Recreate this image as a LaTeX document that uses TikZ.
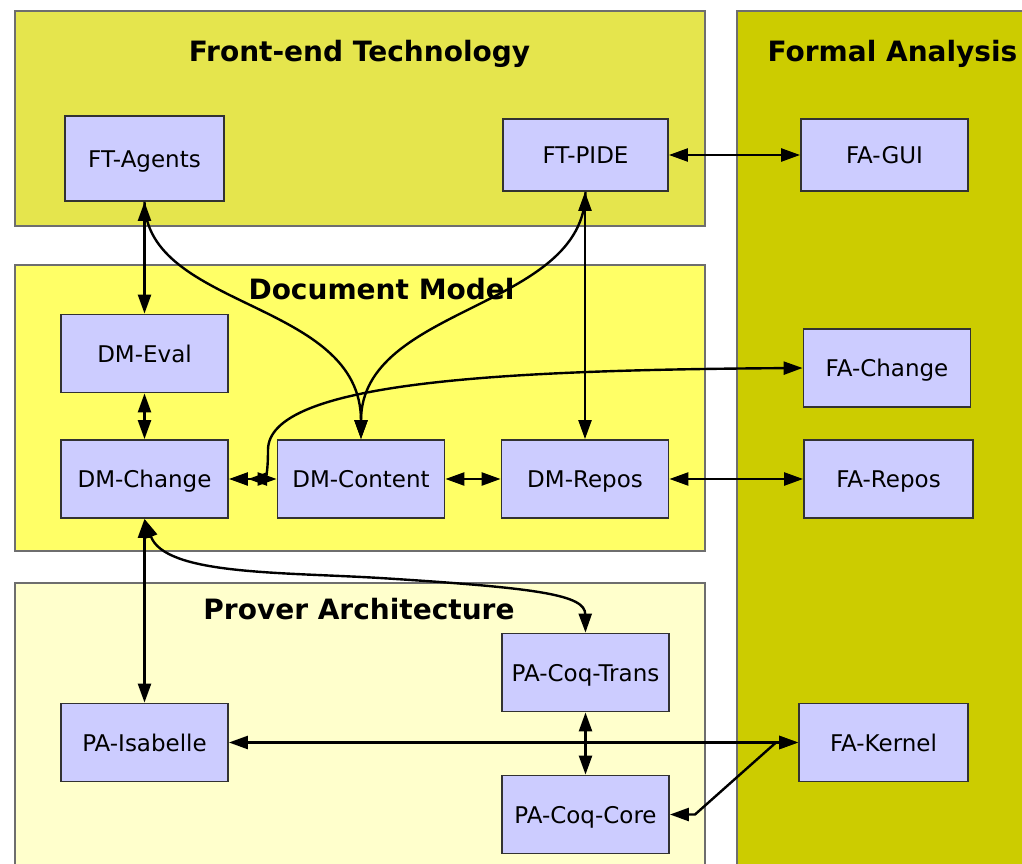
\documentclass[tikz,border=0pt]{standalone}
\usepackage{fontspec}
\setmainfont{DejaVu Sans}
\usetikzlibrary{arrows.meta}
\definecolor{ftcol}{RGB}{229,229,77}
\definecolor{dmcol}{RGB}{255,255,102}
\definecolor{pacol}{RGB}{255,255,204}
\definecolor{facol}{RGB}{204,204,0}
\definecolor{boxcol}{RGB}{204,204,255}
\definecolor{boxline}{RGB}{50,50,50}
\definecolor{panelline}{RGB}{110,110,110}
\tikzset{
  panel/.style={draw=panelline, line width=1.6pt},
  compbox/.style={draw=boxline, fill=boxcol, line width=1.8pt, minimum width=167pt, minimum height=78pt, inner sep=0pt,
    font=\fontsize{23}{27}\selectfont, text height=17pt, text depth=0pt},
  heading/.style={font=\fontsize{28}{32}\selectfont\bfseries, anchor=base, inner sep=0pt},
  link/.style={line width=2.4pt, black},
  both/.style={link, {Triangle[length=19pt,width=13pt]}-{Triangle[length=19pt,width=13pt]}},
  tohead/.style={link, -{Triangle[length=19pt,width=13pt]}},
}
\begin{document}
\begin{tikzpicture}[x=1pt,y=-1pt]
\useasboundingbox (0,0) rectangle (1022,864);
\clip (0,0) rectangle (1022,864);
\fill[white] (0,0) rectangle (1022,864);
% panels
\draw[panel, fill=ftcol] (15,11) rectangle (705,226);
\draw[panel, fill=dmcol] (15,265) rectangle (705,551);
\draw[panel, fill=pacol] (15,583) rectangle (705,880);
\draw[panel, fill=facol] (737,11) rectangle (1040,880);
% headings
\node[heading] (hft) at (359.5,62) {Front-end Technology};
\node[heading] (hfa) at (892.5,62) {Formal Analysis};
\node[heading] (hdm) at (381.5,299) {Document Model};
\node[heading] (hpa) at (359,619) {Prover Architecture};
% boxes
\node[compbox, minimum width=159pt, minimum height=85pt] (ftag) at (144.5,158.5) {FT-Agents};
\node[compbox, minimum width=165pt, minimum height=72pt] (ftpide) at (585.5,155) {FT-PIDE};
\node[compbox, minimum height=72pt] (fagui) at (884.5,155) {FA-GUI};
\node[compbox] (dmeval) at (144.5,353.5) {DM-Eval};
\node[compbox] (dmchange) at (144.5,479) {DM-Change};
\node[compbox] (dmcontent) at (361,479) {DM-Content};
\node[compbox] (dmrepos) at (585,479) {DM-Repos};
\node[compbox] (fachange) at (887,368) {FA-Change};
\node[compbox, minimum width=169pt] (farepos) at (888.5,479) {FA-Repos};
\node[compbox] (pacoqtrans) at (585.5,672.5) {PA-Coq-Trans};
\node[compbox] (paisabelle) at (144.5,742.5) {PA-Isabelle};
\node[compbox, minimum width=169pt] (fakernel) at (883.5,742.5) {FA-Kernel};
\node[compbox] (pacoqcore) at (585.5,814.5) {PA-Coq-Core};
% helper coordinates
\coordinate (chgin) at (248,479);
\coordinate (kinkA) at (695,814.5);
\coordinate (kinkB) at (776,742.5);
% connectors
\draw[both] (ftag.south) -- (dmeval.north);
\draw[tohead] (ftag.south) .. controls (146,310) and (361,300) .. (dmcontent.north);
\draw[tohead] (ftpide.south) .. controls (585,310) and (361,305) .. (dmcontent.north);
\draw[both] (ftpide.south -| dmrepos.north) -- (dmrepos.north);
\draw[both] (ftpide.east) -- (fagui.west);
\draw[both] (dmeval.south) -- (dmchange.north);
\draw[both] (dmchange.east) -- (dmcontent.west);
\draw[both] (dmcontent.east) -- (dmrepos.west);
\draw[both] (dmrepos.east) -- (farepos.west);
\draw[both] (fachange.west) .. controls (500,370) and (268,382) .. (268,450) .. controls (268,475) and (265,479) .. (chgin);
\draw[both] (dmchange.south) -- (paisabelle.north);
\draw[both] (dmchange.south) .. controls (165,575) and (280,572) .. (380,578) .. controls (540,588) and (585,595) .. (pacoqtrans.north);
\draw[both] (paisabelle.east) -- (fakernel.west);
\draw[both] (pacoqtrans.south) -- (pacoqcore.north);
\draw[both] (pacoqcore.east) -- (kinkA) -- (kinkB) -- (fakernel.west);
\end{tikzpicture}
\end{document}
